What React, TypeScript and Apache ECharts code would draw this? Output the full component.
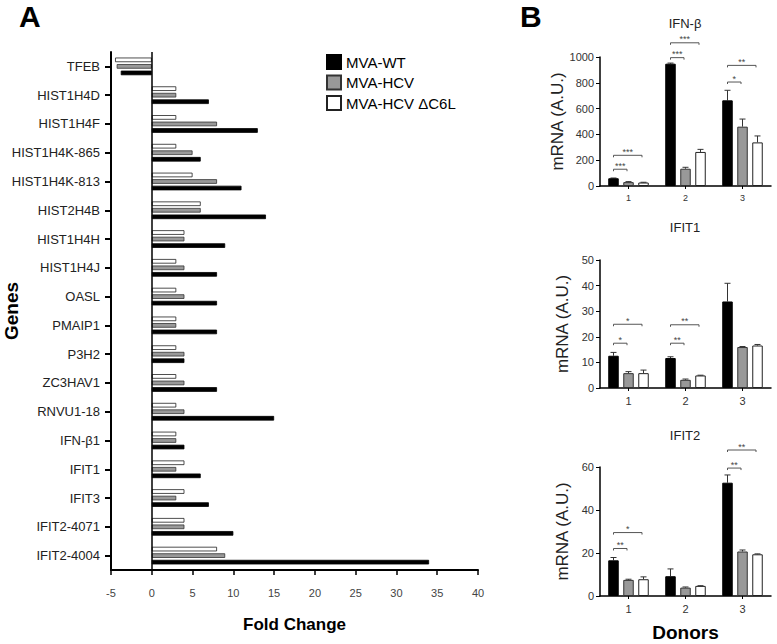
import React, { useEffect, useRef } from 'react';
import * as echarts from 'echarts';

const FONT = "'Liberation Sans', Arial, Helvetica, sans-serif";

// ---------- Panel A data ----------
const genes = ['TFEB', 'HIST1H4D', 'HIST1H4F', 'HIST1H4K-865', 'HIST1H4K-813', 'HIST2H4B', 'HIST1H4H', 'HIST1H4J', 'OASL', 'PMAIP1', 'P3H2', 'ZC3HAV1', 'RNVU1-18', 'IFN-β1', 'IFIT1', 'IFIT3', 'IFIT2-4071', 'IFIT2-4004'];
const foldWT = [-3.8, 7, 13, 6, 11, 14, 9, 8, 8, 8, 4, 8, 15, 4, 6, 7, 10, 34];
const foldHCV = [-4.3, 3, 8, 5, 8, 6, 4, 4, 4, 3, 4, 4, 4, 3, 3, 3, 4, 9];
const foldC6L = [-4.5, 3, 3, 3, 5, 6, 4, 3, 3, 3, 3, 3, 3, 3, 4, 4, 4, 8];

// ---------- Panel B data ----------
const donors = ['1', '2', '3'];
const ifnWT = [60, 948, 664];
const ifnWTErr = [62, 953, 742];
const ifnHCV = [30, 134, 460];
const ifnHCVErr = [34, 145, 519];
const ifnC6L = [27, 264, 338];
const ifnC6LErr = [29, 284, 388];

const ifit1WT = [12.6, 11.7, 33.8];
const ifit1WTErr = [13.9, 12.2, 40.9];
const ifit1HCV = [5.8, 3.2, 16.0];
const ifit1HCVErr = [6.4, 3.5, 16.2];
const ifit1C6L = [5.8, 4.9, 16.6];
const ifit1C6LErr = [7.0, 5.0, 17.0];

const ifit2WT = [16.6, 9.2, 52.7];
const ifit2WTErr = [17.9, 12.6, 56.3];
const ifit2HCV = [7.5, 3.9, 20.7];
const ifit2HCVErr = [7.8, 4.2, 21.4];
const ifit2C6L = [7.8, 4.7, 19.4];
const ifit2C6LErr = [8.9, 4.8, 19.6];

// significance brackets: [donor index, from bar, to bar, height, label]
const ifnBrackets: [number, number, number, number, string][] = [
  [0, 0, 1, 130, '***'], [0, 0, 2, 238, '***'],
  [1, 0, 1, 995, '***'], [1, 0, 2, 1110, '***'],
  [2, 0, 1, 806, '*'], [2, 0, 2, 935, '**'],
];
const ifit1Brackets: [number, number, number, number, string][] = [
  [0, 0, 1, 17.5, '*'], [0, 0, 2, 24.9, '*'],
  [1, 0, 1, 17.5, '**'], [1, 0, 2, 24.7, '**'],
];
const ifit2Brackets: [number, number, number, number, string][] = [
  [0, 0, 1, 22.1, '**'], [0, 0, 2, 29.5, '*'],
  [2, 0, 1, 59.5, '**'], [2, 0, 2, 67.9, '**'],
];

const NAMES = ['MVA-WT', 'MVA-HCV', 'MVA-HCV ΔC6L'];
const STYLES = [
  { color: '#000', borderColor: '#000', borderWidth: 0.8 },
  { color: '#999', borderColor: '#333', borderWidth: 0.8 },
  { color: '#fff', borderColor: '#222', borderWidth: 0.8 },
];

const BW = 10.5;
const GAP = 4.5;

function buildOption() {
  const gridBase = { outerBoundsMode: 'none', containLabel: false };
  const grids: any[] = [
    { ...gridBase, left: 111, top: 52, width: 367, height: 518 },
    { ...gridBase, left: 600, top: 57, width: 171, height: 129 },
    { ...gridBase, left: 600, top: 260, width: 171, height: 128 },
    { ...gridBase, left: 600, top: 467, width: 171, height: 129 },
  ];

  const xAxes: any[] = [
    {
      gridIndex: 0, type: 'value', min: -5, max: 40, interval: 5,
      axisLine: { show: true, lineStyle: { color: '#000', width: 2 } },
      axisTick: { show: true, length: 5, lineStyle: { color: '#000', width: 1.5 } },
      axisLabel: { color: '#444', fontSize: 11, margin: 17, fontFamily: FONT },
      splitLine: { show: false },
      name: 'Fold Change', nameLocation: 'middle', nameGap: 46, nameMoveOverlap: false,
      nameTextStyle: { fontSize: 17, fontWeight: 'bold', color: '#000', fontFamily: FONT },
    },
  ];
  const yAxes: any[] = [
    {
      gridIndex: 0, type: 'category', data: genes, inverse: true,
      axisLine: { show: true, onZero: false, lineStyle: { color: '#000', width: 2 } },
      axisTick: { show: true, alignWithLabel: true, length: 6, lineStyle: { color: '#000', width: 2 } },
      axisLabel: { color: '#222', fontSize: 13, margin: 11, fontFamily: FONT },
      name: 'Genes', nameLocation: 'middle', nameGap: 90, nameRotate: 90, nameMoveOverlap: false,
      nameTextStyle: { fontSize: 19, fontWeight: 'bold', color: '#000', fontFamily: FONT },
    },
  ];

  const yCfg = [
    { max: 1000, interval: 200 },
    { max: 50, interval: 10 },
    { max: 60, interval: 20 },
  ];
  for (let i = 0; i < 3; i++) {
    xAxes.push({
      gridIndex: i + 1, type: 'category', data: donors,
      axisLine: { show: true, lineStyle: { color: '#000', width: 1.5 } },
      axisTick: { show: true, alignWithLabel: true, length: 3, lineStyle: { color: '#000' } },
      axisLabel: { color: '#333', fontSize: i === 0 ? 9 : 11, margin: 7, fontFamily: FONT },
      ...(i === 2 ? {
        name: 'Donors', nameLocation: 'middle', nameGap: 27,
        nameTextStyle: { fontSize: 19, fontWeight: 'bold', color: '#000', fontFamily: FONT },
      } : {}),
    });
    yAxes.push({
      gridIndex: i + 1, type: 'value', min: 0, max: yCfg[i].max, interval: yCfg[i].interval,
      axisLine: { show: true, lineStyle: { color: '#000', width: 1.5 } },
      axisTick: { show: true, length: 4, lineStyle: { color: '#000' } },
      axisLabel: { color: '#333', fontSize: 11, margin: 6, fontFamily: FONT, formatter: (v: number) => String(v) },
      splitLine: { show: false },
      name: 'mRNA (A.U.)', nameLocation: 'middle', nameGap: 29, nameRotate: 90,
      nameTextStyle: { fontSize: 17, color: '#222', fontFamily: FONT },
    });
  }

  const series: any[] = [];
  // Panel A: white (top), gray, black (bottom)
  const panelA = [foldC6L, foldHCV, foldWT];
  const panelAIdx = [2, 1, 0];
  panelA.forEach((d, k) => {
    const si = panelAIdx[k];
    series.push({
      type: 'bar', name: NAMES[si], xAxisIndex: 0, yAxisIndex: 0,
      data: d, barWidth: 4.6, barGap: '42%',
      itemStyle: STYLES[si],
      ...(k === 0 ? {
        markLine: {
          silent: true, symbol: 'none', label: { show: false },
          lineStyle: { color: '#000', width: 1.5, type: 'solid' },
          data: [{ xAxis: 0 }],
        },
      } : {}),
    });
  });

  const panels = [
    { vals: [ifnWT, ifnHCV, ifnC6L], errs: [ifnWTErr, ifnHCVErr, ifnC6LErr], br: ifnBrackets },
    { vals: [ifit1WT, ifit1HCV, ifit1C6L], errs: [ifit1WTErr, ifit1HCVErr, ifit1C6LErr], br: ifit1Brackets },
    { vals: [ifit2WT, ifit2HCV, ifit2C6L], errs: [ifit2WTErr, ifit2HCVErr, ifit2C6LErr], br: ifit2Brackets },
  ];
  panels.forEach((p, pi) => {
    const ax = pi + 1;
    p.vals.forEach((d, si) => {
      series.push({
        type: 'bar', name: NAMES[si], xAxisIndex: ax, yAxisIndex: ax,
        data: d, barWidth: BW, barGap: (GAP / BW * 100).toFixed(1) + '%',
        itemStyle: { ...STYLES[si], borderWidth: 1 },
      });
    });
    // error bars
    const errData: number[][] = [];
    p.vals.forEach((d, si) => d.forEach((v, ci) => errData.push([ci, p.errs[si][ci], si, v])));
    series.push({
      type: 'custom', xAxisIndex: ax, yAxisIndex: ax, clip: false, silent: true,
      data: errData,
      encode: { x: 0, y: 1 },
      renderItem: (params: any, api: any) => {
        const ci = api.value(0), e = api.value(1), si = api.value(2), v = api.value(3);
        const p0 = api.coord([ci, v]);
        const p1 = api.coord([ci, e]);
        const x = p0[0] + (si - 1) * (BW + GAP);
        return {
          type: 'group',
          children: [
            { type: 'line', shape: { x1: x, y1: p0[1], x2: x, y2: p1[1] }, style: { stroke: '#333', lineWidth: 1 } },
            { type: 'line', shape: { x1: x - 3, y1: p1[1], x2: x + 3, y2: p1[1] }, style: { stroke: '#333', lineWidth: 1 } },
          ],
        };
      },
    });
    // significance brackets
    const br = p.br;
    series.push({
      type: 'custom', xAxisIndex: ax, yAxisIndex: ax, clip: false, silent: true,
      data: br.map((b) => [b[0], b[3]]),
      encode: { x: 0, y: 1 },
      renderItem: (params: any, api: any) => {
        const b = br[params.dataIndex];
        const c = api.coord([b[0], b[3]]);
        const x1 = c[0] + (b[1] - 1) * (BW + GAP);
        const x2 = c[0] + (b[2] - 1) * (BW + GAP) - 1.5;
        const y = c[1];
        return {
          type: 'group',
          children: [
            {
              type: 'polyline',
              shape: { points: [[x1, y + 2], [x1, y], [x2, y], [x2, y + 2]] },
              style: { stroke: '#555', lineWidth: 1, fill: 'none' },
            },
            {
              type: 'text',
              style: {
                text: b[4], x: (x1 + x2) / 2, y: y + 1, align: 'center', verticalAlign: 'bottom',
                fontSize: 9, fill: '#444', fontFamily: FONT,
              },
            },
          ],
        };
      },
    });
  });

  return {
    animation: false,
    backgroundColor: '#fff',
    textStyle: { fontFamily: FONT },
    grid: grids,
    xAxis: xAxes,
    yAxis: yAxes,
    legend: {
      data: NAMES, orient: 'vertical', left: 326, top: 54, padding: 0,
      itemWidth: 14, itemHeight: 14, itemGap: 4.5, icon: 'rect',
      selectedMode: false,
      textStyle: { fontSize: 15, color: '#000', fontFamily: FONT },
    },
    graphic: [
      { type: 'text', left: 19, top: 1, style: { text: 'A', fontSize: 30, fontWeight: 'bold', fill: '#000', fontFamily: FONT } },
      { type: 'text', left: 520, top: 1, style: { text: 'B', fontSize: 30, fontWeight: 'bold', fill: '#000', fontFamily: FONT } },
      { type: 'text', x: 685, y: 23, style: { text: 'IFN-β', fontSize: 13, fill: '#222', align: 'center', verticalAlign: 'middle', fontFamily: FONT } },
      { type: 'text', x: 685, y: 227, style: { text: 'IFIT1', fontSize: 13, fill: '#222', align: 'center', verticalAlign: 'middle', fontFamily: FONT } },
      { type: 'text', x: 685, y: 435, style: { text: 'IFIT2', fontSize: 13, fill: '#222', align: 'center', verticalAlign: 'middle', fontFamily: FONT } },
    ],
    series,
  };
}

export default function App() {
  const ref = useRef<HTMLDivElement>(null);
  useEffect(() => {
    if (!ref.current) return;
    const chart = echarts.init(ref.current, null, { renderer: 'svg' });
    chart.setOption(buildOption() as any);
    return () => chart.dispose();
  }, []);
  return <div ref={ref} style={{ position: 'absolute', left: 0, top: 0, width: 777, height: 644, background: '#fff' }} />;
}
